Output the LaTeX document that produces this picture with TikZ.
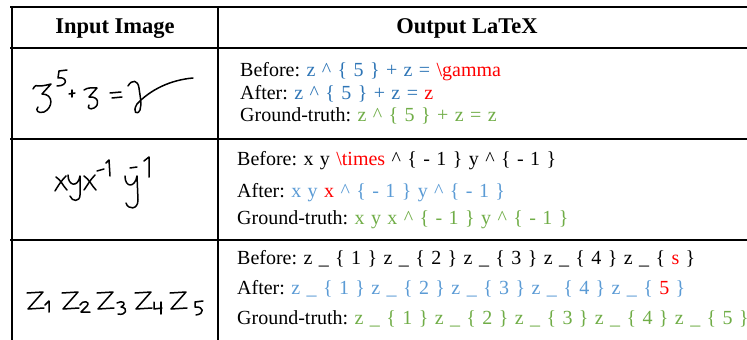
\documentclass[tikz,border=0pt]{standalone}
\usepackage{fontspec}
\setmainfont{Liberation Serif}
\usepackage{xcolor}
\usetikzlibrary{positioning}

\definecolor{predblue}{RGB}{46,117,182}
\definecolor{fixblue}{RGB}{91,155,213}
\definecolor{errred}{RGB}{255,0,0}
\definecolor{gtgreen}{RGB}{112,173,71}

\newcommand{\widespaces}{\frenchspacing\spaceskip 6.4pt\relax}

\tikzset{
  rule/.style={line width=2pt},
  hand/.style={line width=1.5pt, line cap=round, line join=round},
  head/.style={inner sep=0pt, anchor=base, font=\fontsize{22.5}{26}\selectfont\bfseries},
  ltx/.style={inner sep=0pt, anchor=base west, font=\fontsize{20}{24}\selectfont, execute at begin node=\widespaces},
}

\begin{document}
\begin{tikzpicture}[x=1pt, y=-1pt]
    \useasboundingbox (0,0) rectangle (747,340);
    % Table rules
    \draw[rule] (10,7) -- (747,7);
    \draw[rule] (10,48) -- (747,48);
    \draw[rule] (10,139) -- (747,139);
    \draw[rule] (10,240) -- (747,240);
    \draw[rule] (12,6) -- (12,340);
    \draw[rule] (218,6) -- (218,340);
    % Header
    \node[head] (hin) at (115,33) {Input Image};
    \node[head] (hout) at (467,33) {Output LaTeX};

    % Row 1
    \node[ltx] (b1) at (240,76) {Before: \textcolor{predblue}{z \textasciicircum{} \{ 5 \} + z =} \textcolor{errred}{\textbackslash gamma}};
    \node[ltx, below=23pt of b1.base west, anchor=base west] (a1) {After: \textcolor{predblue}{z \textasciicircum{} \{ 5 \} + z =} \textcolor{errred}{z}};
    \node[ltx, below=22pt of a1.base west, anchor=base west] (g1) {Ground-truth: \textcolor{gtgreen}{z \textasciicircum{} \{ 5 \} + z = z}};
    % Row 2
    \node[ltx] (b2) at (237,165) {Before: x y \textcolor{errred}{\textbackslash times} \textasciicircum{} \{ - 1 \} y \textasciicircum{} \{ - 1 \}};
    \node[ltx, below=32pt of b2.base west, anchor=base west] (a2) {After: \textcolor{fixblue}{x y} \textcolor{errred}{x} \textcolor{fixblue}{\textasciicircum{} \{ - 1 \} y \textasciicircum{} \{ - 1 \}}};
    \node[ltx, below=27pt of a2.base west, anchor=base west] (g2) {Ground-truth: \textcolor{gtgreen}{x y x \textasciicircum{} \{ - 1 \} y \textasciicircum{} \{ - 1 \}}};
    % Row 3
    \node[ltx] (b3) at (237,264) {Before: z \_ \{ 1 \} z \_ \{ 2 \} z \_ \{ 3 \} z \_ \{ 4 \} z \_ \{ \textcolor{errred}{s} \}};
    \node[ltx, below=30pt of b3.base west, anchor=base west] (a3) {After: \textcolor{fixblue}{z \_ \{ 1 \} z \_ \{ 2 \} z \_ \{ 3 \} z \_ \{ 4 \} z \_ \{} \textcolor{errred}{5} \textcolor{fixblue}{\}}};
    \node[ltx, below=30pt of a3.base west, anchor=base west] (g3) {Ground-truth: \textcolor{gtgreen}{z \_ \{ 1 \} z \_ \{ 2 \} z \_ \{ 3 \} z \_ \{ 4 \} z \_ \{ 5 \}}};

    % Handwriting, row 1
    \draw[hand] (33,89) .. controls (35,85) and (37,85) .. (39,86) .. controls (43,86) and (47,85) .. (51,84) -- (42,94)
        .. controls (54,94) and (53,108) .. (44,112) .. controls (38,114) and (35,110) .. (38,107);
    \draw[hand] (67,70) -- (59,71) -- (58,78) .. controls (67,76) and (69,86) .. (57,86);
    \draw[hand] (69,94) -- (75,93);
    \draw[hand] (72,90) -- (72,97);
    \draw[hand] (84,90) .. controls (88,87) and (93,88) .. (97,88) -- (89,97)
        .. controls (99,96) and (100,105) .. (94,108) .. controls (90,110) and (87,108) .. (89,105);
    \draw[hand] (110,93) -- (121,92);
    \draw[hand] (112,98) -- (122,97);
    \draw[hand] (128,86) .. controls (132,79) and (138,80) .. (139,88)
        .. controls (140,96) and (142,104) .. (140,110) .. controls (137,116) and (132,112) .. (137,104)
        .. controls (150,90) and (170,80) .. (193,78);
    % Handwriting, row 2
    \draw[hand] (56,177) .. controls (61,180) and (63,186) .. (67,190);
    \draw[hand] (66,176) .. controls (61,181) and (58,186) .. (55,191);
    \draw[hand] (68,175) .. controls (68,186) and (78,188) .. (80,176)
        -- (80,195) .. controls (80,202) and (72,202) .. (70,196);
    \draw[hand] (84,176) .. controls (89,179) and (92,186) .. (96,190);
    \draw[hand] (95,175) .. controls (90,180) and (87,186) .. (84,190);
    \draw[hand] (97,171) -- (104,169);
    \draw[hand] (106,163) -- (109,160) -- (110,176);
    \draw[hand] (125,176) .. controls (125,188) and (135,188) .. (137,176)
        -- (138,200) .. controls (138,210) and (128,210) .. (126,203);
    \draw[hand] (130,168) -- (137,167);
    \draw[hand] (144,161) -- (149,157) -- (149,177);
    % Handwriting, row 3
    \foreach \zx in {27,62,97,135,170}
        \draw[hand] (\zx,293) -- (\zx+16,292) -- (\zx+1,309) -- (\zx+17,308);
    \draw[hand] (45,305) -- (49,301) -- (49,312);
    \draw[hand] (80,305) .. controls (82,300) and (91,301) .. (87,306) -- (81,312) -- (90,312);
    \draw[hand] (117,303) .. controls (122,300) and (128,303) .. (121,307)
        .. controls (129,308) and (126,316) .. (118,314);
    \draw[hand] (154,302) -- (154,309) -- (162,308);
    \draw[hand] (161,302) -- (161,314);
    \draw[hand] (203,301) -- (195,302) -- (195,307) .. controls (204,306) and (205,314) .. (196,315);
\end{tikzpicture}
\end{document}
